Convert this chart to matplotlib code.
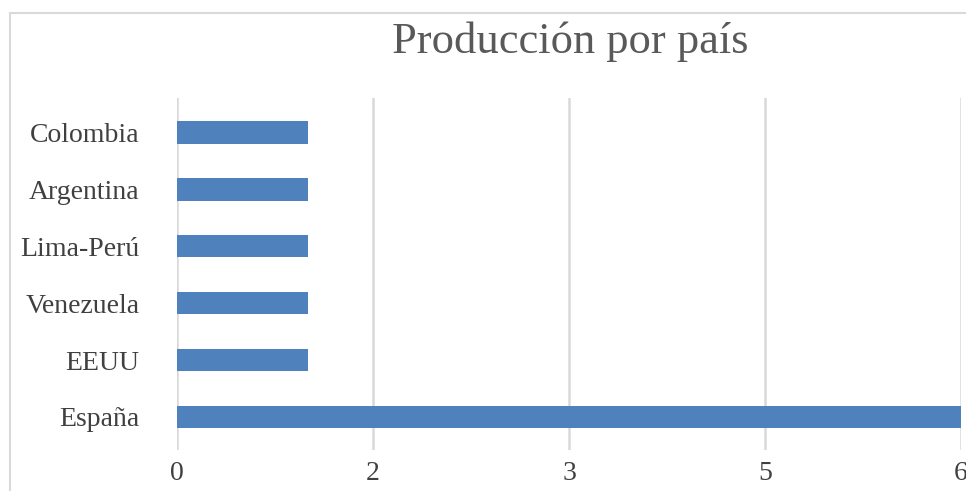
import matplotlib
matplotlib.use("Agg")
import matplotlib.pyplot as plt
import matplotlib.patches as mpatches
from matplotlib.ticker import FuncFormatter

countries = ["España", "EEUU", "Venezuela", "Lima-Perú", "Argentina", "Colombia"]
production = [6, 1, 1, 1, 1, 1]
x_ticks = [0, 1.5, 3, 4.5, 6]

W, H = 966, 491
fig = plt.figure(figsize=(W / 100, H / 100), dpi=100)

# chart frame (Excel-like light border, cut off on the right/bottom)
frame = mpatches.Rectangle((10 / W, -0.1), 1.2, 1.1 - 13 / H, transform=fig.transFigure,
                           fill=False, edgecolor="#d9d9d9", lw=1.5)
fig.patches.append(frame)

ax = fig.add_axes([177 / W, 1 - 450 / H, (961 - 177) / W, 352 / H])
ax.barh(range(len(countries)), production, height=0.4, color="#4f81bd")

ax.set_xlim(0, 6)
ax.set_ylim(-0.58, len(countries) - 0.4)
ax.set_xticks(x_ticks)
ax.xaxis.set_major_formatter(FuncFormatter(lambda v, p: str(int(v + 0.5))))
ax.set_yticks(range(len(countries)))
ax.set_yticklabels(countries)
ax.grid(axis="x", color="#d9d9d9", lw=1.8)
ax.set_axisbelow(True)
for s in ax.spines.values():
    s.set_visible(False)
ax.tick_params(length=0, labelsize=20, labelcolor="#404040")
ax.tick_params(axis="x", pad=8)
ax.tick_params(axis="y", pad=27)
for lab in ax.get_xticklabels() + ax.get_yticklabels():
    lab.set_family("Liberation Serif")

fig.text(570 / W, 1 - 42 / H, "Producción por país", ha="center", va="center",
         fontsize=32, color="#595959", family="Liberation Serif")

fig.savefig("out.png", dpi=100)
